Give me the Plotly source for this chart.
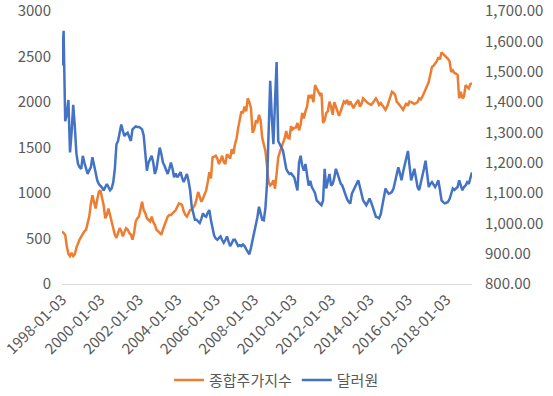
import plotly.graph_objects as go

# Monthly categories 1998-01 .. 2019-05
dates = [f"{y}-{m:02d}-03" for y in range(1998, 2020) for m in range(1, 13)][:257]

kospi = [
    578, 560, 542, 416, 330, 307, 343, 307, 325, 400, 450, 488,      # 1998
    520, 560, 580, 596, 680, 741, 880, 976, 900, 831, 930, 1012,     # 1999
    1030, 950, 867, 723, 760, 831, 760, 687, 620, 540, 506, 560,     # 2000
    614, 580, 524, 570, 614, 600, 560, 545, 488, 560, 687, 720,      # 2001
    741, 820, 904, 813, 780, 723, 700, 687, 741, 680, 650, 596,      # 2002
    580, 560, 542, 600, 651, 700, 741, 760, 760, 777, 800, 813,      # 2003
    850, 886, 880, 867, 800, 760, 741, 780, 813, 820, 849, 870,      # 2004
    930, 1012, 960, 904, 940, 980, 1030, 1120, 1229, 1160, 1392, 1400,  # 2005
    1410, 1380, 1319, 1360, 1410, 1340, 1320, 1428, 1400, 1380, 1482, 1430,  # 2006
    1536, 1600, 1717, 1800, 1898, 1879, 1950, 1900, 2042, 2000, 1934, 1663,  # 2007
    1700, 1789, 1780, 1861, 1800, 1608, 1550, 1464, 1300, 1120, 1084, 1100,  # 2008
    1140, 1048, 1210, 1392, 1450, 1500, 1572, 1600, 1681, 1608, 1600, 1735,  # 2009
    1700, 1717, 1720, 1771, 1690, 1750, 1880, 1820, 1898, 1950, 2078, 2042,  # 2010
    2080, 2000, 2187, 2150, 2114, 2080, 2100, 1771, 1800, 1880, 1900, 2006,  # 2011
    1950, 1861, 2000, 1952, 1880, 1850, 1900, 1950, 2006, 1990, 2024, 1970,  # 2012
    2006, 1970, 1934, 1970, 2000, 2024, 1950, 1980, 2042, 2020, 2006, 1990,  # 2013
    1980, 1970, 1990, 2020, 2042, 2010, 1970, 1990, 1960, 1930, 1916, 1950,  # 2014
    2000, 2060, 2114, 2100, 2080, 2006, 1980, 1952, 1940, 1916, 1960, 1990,  # 2015
    1960, 2006, 2000, 1988, 1980, 1988, 2000, 2042, 2030, 2060, 2096, 2150,  # 2016
    2180, 2223, 2300, 2386, 2400, 2422, 2450, 2494, 2470, 2548, 2530, 2512,  # 2017
    2500, 2476, 2450, 2331, 2350, 2320, 2313, 2300, 2042, 2114, 2042, 2060,  # 2018
    2187, 2170, 2150, 2200, 2205,                                           # 2019
]

usdkrw = [
    1521, 1635, 1337, 1360, 1407, 1234, 1300, 1391, 1320, 1230, 1196, 1185,  # 1998
    1180, 1223, 1200, 1180, 1163, 1175, 1185, 1218, 1190, 1160, 1142, 1130,  # 1999
    1125, 1118, 1109, 1120, 1130, 1120, 1109, 1115, 1136, 1180, 1261, 1272,  # 2000
    1300, 1326, 1305, 1288, 1295, 1299, 1285, 1272, 1310, 1315, 1320, 1318,  # 2001
    1318, 1315, 1310, 1290, 1218, 1174, 1200, 1215, 1223, 1200, 1163, 1180,  # 2002
    1220, 1250, 1230, 1201, 1190, 1175, 1163, 1180, 1201, 1180, 1152, 1165,  # 2003
    1152, 1160, 1169, 1150, 1136, 1150, 1163, 1140, 1109, 1055, 1030, 1012,  # 2004
    1012, 1005, 1001, 1015, 1033, 1025, 1022, 1035, 1044, 1010, 979, 960,    # 2005
    950, 946, 952, 957, 945, 936, 945, 957, 940, 925, 935, 946,              # 2006
    946, 935, 925, 928, 925, 930, 925, 915, 905, 898, 920, 946,              # 2007
    960, 990, 1020, 1055, 1030, 1012, 1010, 1050, 1130, 1300, 1470, 1350,    # 2008
    1261, 1400, 1532, 1272, 1261, 1250, 1239, 1210, 1180, 1170, 1163, 1165,  # 2009
    1160, 1152, 1130, 1109, 1200, 1223, 1190, 1174, 1196, 1150, 1125, 1140,  # 2010
    1120, 1110, 1100, 1076, 1070, 1065, 1060, 1075, 1180, 1115, 1140, 1163,  # 2011
    1125, 1130, 1150, 1180, 1165, 1150, 1131, 1125, 1109, 1095, 1080, 1071,  # 2012
    1065, 1098, 1110, 1120, 1130, 1142, 1120, 1100, 1076, 1068, 1060, 1070,  # 2013
    1082, 1070, 1055, 1040, 1022, 1020, 1017, 1030, 1060, 1080, 1115, 1105,  # 2014
    1098, 1100, 1104, 1115, 1136, 1160, 1185, 1165, 1142, 1170, 1196, 1215,  # 2015
    1239, 1190, 1142, 1160, 1180, 1150, 1120, 1109, 1130, 1152, 1180, 1207,  # 2016
    1160, 1120, 1130, 1136, 1128, 1120, 1130, 1142, 1110, 1076, 1070, 1066,  # 2017
    1068, 1071, 1080, 1095, 1115, 1110, 1115, 1120, 1142, 1125, 1109, 1120,  # 2018
    1125, 1136, 1130, 1150, 1168,                                           # 2019
]

tick_labels = [f"{y}-01-03" for y in range(1998, 2019, 2)]
left_ticks = [0, 500, 1000, 1500, 2000, 2500, 3000]
right_ticks = [800, 900, 1000, 1100, 1200, 1300, 1400, 1500, 1600, 1700]

font_family = "Noto Sans CJK KR"
grey = "#595959"

fig = go.Figure()
fig.add_trace(go.Scatter(x=dates, y=kospi, name="종합주가지수", mode="lines",
                         line=dict(color="#ED7D31", width=2.5)))
fig.add_trace(go.Scatter(x=dates, y=usdkrw, name="달러원", mode="lines",
                         line=dict(color="#4472C4", width=2.5), yaxis="y2"))

fig.update_layout(
    width=553, height=396,
    margin=dict(l=62, r=81, t=11, b=112),
    paper_bgcolor="white", plot_bgcolor="white",
    font=dict(family=font_family, size=15, color=grey),
    xaxis=dict(type="category", categoryorder="array", categoryarray=dates,
               range=[0, len(dates) - 1], automargin=False,
               tickmode="array", tickvals=tick_labels, ticktext=tick_labels,
               tickangle=-45, showgrid=False, showline=True,
               linecolor="#D9D9D9", linewidth=1, ticks="",
               tickfont=dict(size=15, color=grey)),
    yaxis=dict(range=[0, 3002], tickvals=left_ticks, automargin=False,
               tickformat="d", showgrid=False, zeroline=False, showline=False,
               ticks="", ticklabelstandoff=10, ticklabeloverflow="allow",
               tickfont=dict(size=15, color=grey)),
    yaxis2=dict(range=[800, 1700.6], overlaying="y", side="right",
                tickvals=right_ticks, automargin=False,
                tickformat=",.2f", showgrid=False, zeroline=False, showline=False,
                ticks="", ticklabelstandoff=12, ticklabeloverflow="allow",
                tickfont=dict(size=15, color=grey)),
    legend=dict(orientation="h", xref="container", x=0.5, xanchor="center",
                yref="container", y=0.04, yanchor="middle",
                font=dict(size=15, color=grey), itemwidth=30,
                traceorder="normal"),
    showlegend=True,
)

fig.write_html("out.html",
               config={"displayModeBar": False},
               post_script="document.body.style.margin='0px';document.body.style.overflow='hidden';")
